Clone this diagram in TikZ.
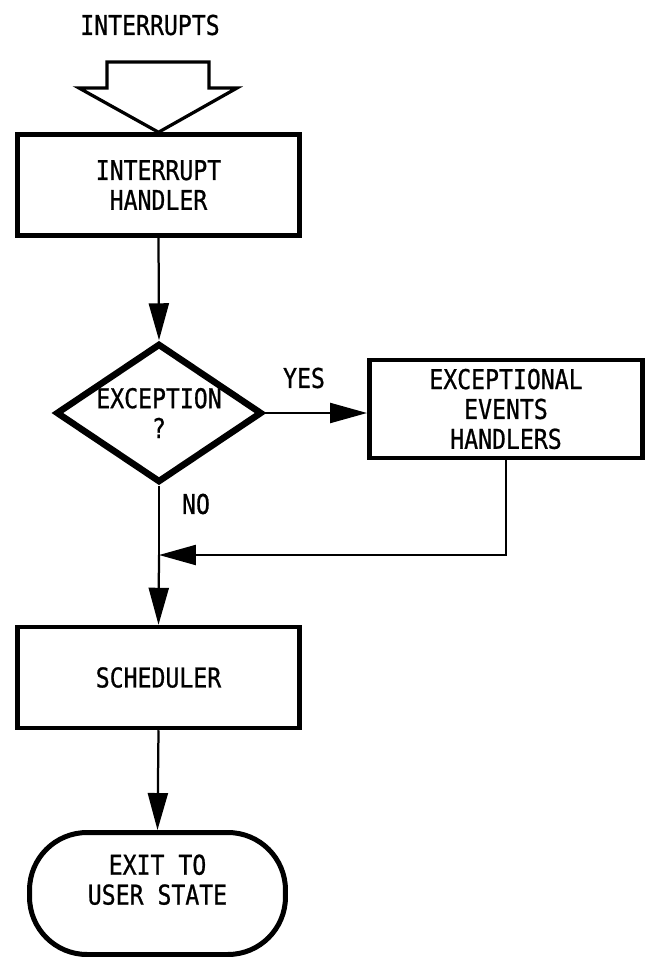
\documentclass[tikz,border=0pt]{standalone}
\usepackage{fontspec}
\newfontfamily\flowfont{DejaVu Sans Mono}[FakeStretch=0.85,FakeBold=0.8]
\usetikzlibrary{arrows.meta,positioning,shapes.geometric}
\tikzset{
  flowtext/.style={font=\flowfont\fontsize{15.5}{17}\selectfont,align=center},
  processnode/.style={flowtext,draw,line width=0.09cm,minimum width=5.65cm,minimum height=2.02cm,inner sep=0pt},
  eventsnode/.style={processnode,minimum width=5.47cm,minimum height=1.96cm},
  decisionnode/.style={flowtext,draw,diamond,line width=0.13cm,minimum width=4.12cm,minimum height=2.78cm,aspect=1.46,inner sep=0pt},
  terminalnode/.style={flowtext,draw,line width=0.1cm,rounded corners=1.15cm,minimum width=5.12cm,minimum height=2.44cm,text depth=0.56cm},
  labeltext/.style={flowtext},
  arrow/.style={-{Triangle[length=7.4mm,width=4mm]},line width=0.045cm},
  flowline/.style={line width=0.045cm},
  bigarrow/.style={draw,line width=0.065cm,line join=miter}
}
\begin{document}
\begin{tikzpicture}[x=0.02cm,y=-0.02cm]
\useasboundingbox (0,0) rectangle (648,959);
\node[labeltext] (irqs) at (150,25) {INTERRUPTS};
\node[processnode] (handler) at (158.5,185) {INTERRUPT\\HANDLER};
\node[decisionnode] (except) at (159,413) {EXCEPTION\\?};
\node[eventsnode] (events) at (506,409) {EXCEPTIONAL\\EVENTS\\HANDLERS};
\node[processnode] (sched) at (158.5,677.5) {SCHEDULER};
\node[terminalnode] (exit) at (157.5,893.5) {EXIT TO\\USER STATE};
\node[labeltext] (yes) at (304,378) {YES};
\node[labeltext] (no) at (196,504) {NO};
\coordinate (merge) at (except.south |- 0,555);

\draw[bigarrow] (107,62) -- (209,62) -- (209,88) -- (237,88) -- (handler.north)
  -- (79,88) -- (107,88) -- cycle;
\draw[arrow] (handler.south) -- (except.north);
\draw[arrow] (except.east) -- (except.east -| events.west);
\draw[flowline] (except.south) -- (merge);
\draw[arrow] (events.south) |- (merge);
\draw[arrow] (merge) -- (sched.north);
\draw[arrow] (sched.south) -- (exit.north);
\end{tikzpicture}
\end{document}
